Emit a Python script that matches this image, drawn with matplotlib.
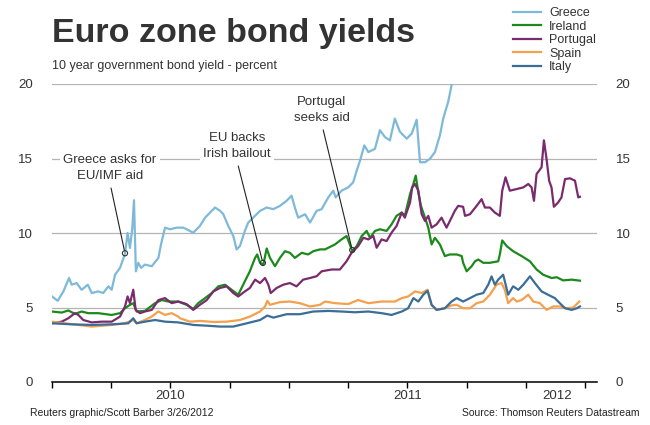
import matplotlib
matplotlib.use('agg')
import matplotlib.pyplot as plt

plt.rcParams['font.family'] = ['Liberation Sans', 'DejaVu Sans']

# decimal years, values in percent
greece_t = [2010.000, 2010.024, 2010.048, 2010.072, 2010.083, 2010.104, 2010.125, 2010.151, 2010.168, 2010.195,
            2010.216, 2010.238, 2010.252, 2010.266, 2010.287, 2010.308, 2010.319, 2010.329, 2010.339, 2010.346,
            2010.354, 2010.364, 2010.376, 2010.392, 2010.421, 2010.449, 2010.460, 2010.477, 2010.498, 2010.526,
            2010.554, 2010.568, 2010.596, 2010.624, 2010.646, 2010.667, 2010.688, 2010.709, 2010.723, 2010.744,
            2010.765, 2010.779, 2010.793, 2010.814, 2010.828, 2010.849, 2010.878, 2010.906, 2010.934, 2010.962,
            2010.990, 2011.011, 2011.025, 2011.039, 2011.068, 2011.089, 2011.117, 2011.138, 2011.166, 2011.187,
            2011.197, 2011.222, 2011.250, 2011.271, 2011.286, 2011.300, 2011.318, 2011.335, 2011.363, 2011.384,
            2011.405, 2011.426, 2011.447, 2011.468, 2011.497, 2011.518, 2011.539, 2011.553, 2011.574, 2011.595,
            2011.616, 2011.637, 2011.651, 2011.672, 2011.686, 2011.700, 2011.720, 2011.750, 2011.800, 2011.850,
            2011.900, 2012.000, 2012.100, 2012.228]
greece = [5.74, 5.45, 6.08, 6.98, 6.53, 6.64, 6.19, 6.53, 5.97, 6.08,
          5.97, 6.42, 6.19, 7.20, 7.66, 8.60, 10.0, 9.00, 10.36, 12.2,
          7.43, 8.00, 7.66, 7.88, 7.77, 8.33, 9.23, 10.36, 10.25, 10.36,
          10.36, 10.25, 10.02, 10.47, 11.03, 11.37, 11.71, 11.49, 11.26, 10.47,
          9.80, 8.90, 9.12, 10.14, 10.70, 11.03, 11.49, 11.71, 11.60, 11.82,
          12.16, 12.50, 11.71, 11.03, 11.26, 10.70, 11.49, 11.60, 12.39, 12.84,
          12.39, 12.84, 13.06, 13.40, 14.19, 14.86, 15.88, 15.43, 15.65, 16.90,
          16.44, 16.22, 17.68, 16.80, 16.33, 16.67, 17.60, 14.75, 14.75, 14.98,
          15.43, 16.55, 17.68, 18.80, 19.90, 21.0, 23.0, 22.5, 24.5, 28.0,
          33.0, 34.0, 35.0, 25.0]

ireland_t = [2010.000, 2010.041, 2010.069, 2010.097, 2010.125, 2010.153, 2010.195, 2010.252, 2010.287, 2010.308,
             2010.329, 2010.343, 2010.357, 2010.392, 2010.435, 2010.463, 2010.491, 2010.533, 2010.568, 2010.596,
             2010.617, 2010.646, 2010.674, 2010.702, 2010.730, 2010.758, 2010.786, 2010.814, 2010.835, 2010.857,
             2010.866, 2010.878, 2010.892, 2010.906, 2010.920, 2010.941, 2010.962, 2010.983, 2011.004, 2011.025,
             2011.054, 2011.081, 2011.103, 2011.131, 2011.152, 2011.194, 2011.222, 2011.243, 2011.257, 2011.267,
             2011.286, 2011.307, 2011.328, 2011.342, 2011.363, 2011.384, 2011.412, 2011.433, 2011.454, 2011.476,
             2011.489, 2011.511, 2011.525, 2011.535, 2011.546, 2011.557, 2011.574, 2011.588, 2011.602, 2011.616,
             2011.637, 2011.658, 2011.679, 2011.708, 2011.729, 2011.735, 2011.750, 2011.771, 2011.785, 2011.799,
             2011.820, 2011.848, 2011.883, 2011.890, 2011.900, 2011.919, 2011.946, 2011.982, 2012.017, 2012.045,
             2012.073, 2012.108, 2012.130, 2012.157, 2012.193, 2012.228]
ireland = [4.73, 4.66, 4.80, 4.57, 4.73, 4.62, 4.62, 4.50, 4.62, 4.95,
           5.18, 5.29, 4.73, 4.77, 5.29, 5.50, 5.40, 5.40, 5.18, 4.91,
           5.29, 5.63, 5.97, 6.42, 6.53, 6.19, 5.86, 6.76, 7.43, 8.33,
           8.56, 8.00, 7.88, 8.96, 8.33, 7.77, 8.33, 8.78, 8.67, 8.33,
           8.67, 8.56, 8.78, 8.90, 8.90, 9.23, 9.57, 9.80, 9.23, 8.78,
           9.12, 9.80, 10.14, 9.68, 10.14, 10.25, 10.14, 10.58, 11.15, 11.37,
           11.15, 12.61, 13.29, 13.85, 12.73, 11.82, 11.03, 10.36, 9.23, 9.68,
           9.23, 8.45, 8.56, 8.56, 8.45, 8.00, 7.43, 7.77, 8.10, 8.22,
           8.00, 8.00, 8.10, 8.56, 9.50, 9.12, 8.78, 8.45, 8.10, 7.55,
           7.20, 6.98, 7.03, 6.82, 6.87, 6.80]

portugal_t = [2010.000, 2010.041, 2010.069, 2010.097, 2010.111, 2010.132, 2010.168, 2010.210, 2010.252, 2010.287,
              2010.308, 2010.319, 2010.329, 2010.343, 2010.353, 2010.371, 2010.392, 2010.421, 2010.449, 2010.477,
              2010.505, 2010.533, 2010.568, 2010.596, 2010.624, 2010.653, 2010.681, 2010.709, 2010.737, 2010.765,
              2010.786, 2010.814, 2010.835, 2010.857, 2010.878, 2010.899, 2010.913, 2010.923, 2010.948, 2010.976,
              2011.004, 2011.032, 2011.060, 2011.089, 2011.117, 2011.138, 2011.180, 2011.215, 2011.243, 2011.264,
              2011.292, 2011.314, 2011.335, 2011.356, 2011.370, 2011.391, 2011.412, 2011.433, 2011.454, 2011.476,
              2011.489, 2011.511, 2011.520, 2011.532, 2011.546, 2011.560, 2011.574, 2011.588, 2011.602, 2011.623,
              2011.644, 2011.665, 2011.686, 2011.700, 2011.714, 2011.735, 2011.743, 2011.764, 2011.792, 2011.813,
              2011.827, 2011.848, 2011.869, 2011.890, 2011.900, 2011.914, 2011.932, 2011.961, 2011.989, 2012.010,
              2012.024, 2012.034, 2012.045, 2012.056, 2012.066, 2012.076, 2012.087, 2012.098, 2012.108, 2012.118,
              2012.136, 2012.150, 2012.165, 2012.186, 2012.207, 2012.221, 2012.228]
portugal = [3.94, 4.05, 4.28, 4.62, 4.50, 4.16, 4.00, 4.05, 4.05, 4.39,
            5.07, 5.74, 5.29, 6.19, 4.84, 4.62, 4.73, 4.84, 5.50, 5.63,
            5.29, 5.40, 5.23, 4.84, 5.18, 5.50, 6.08, 6.31, 6.42, 5.97,
            5.74, 6.08, 6.31, 6.87, 6.64, 6.98, 6.53, 5.97, 6.31, 6.53,
            6.64, 6.42, 6.87, 6.98, 7.10, 7.43, 7.55, 7.55, 8.10, 8.67,
            9.12, 9.68, 9.57, 9.80, 9.01, 9.57, 9.46, 10.02, 10.47, 11.37,
            11.03, 12.05, 13.06, 13.29, 12.84, 11.26, 10.81, 11.15, 10.36, 10.58,
            11.03, 10.36, 11.03, 11.49, 11.82, 11.76, 11.15, 11.26, 11.82, 12.27,
            11.71, 11.71, 11.37, 11.15, 12.84, 13.74, 12.84, 12.95, 13.06, 13.29,
            13.06, 12.16, 13.96, 14.19, 14.41, 16.22, 14.98, 13.51, 13.06, 11.76,
            12.05, 12.39, 13.62, 13.67, 13.51, 12.39, 12.43]

spain_t = [2010.000, 2010.055, 2010.111, 2010.168, 2010.252, 2010.308, 2010.343, 2010.357, 2010.392, 2010.421,
           2010.449, 2010.477, 2010.505, 2010.533, 2010.540, 2010.582, 2010.624, 2010.681, 2010.737, 2010.793,
           2010.835, 2010.878, 2010.899, 2010.909, 2010.920, 2010.962, 2011.004, 2011.046, 2011.089, 2011.131,
           2011.152, 2011.194, 2011.250, 2011.292, 2011.335, 2011.391, 2011.447, 2011.476, 2011.503, 2011.532,
           2011.560, 2011.585, 2011.602, 2011.623, 2011.658, 2011.686, 2011.708, 2011.735, 2011.764, 2011.792,
           2011.820, 2011.848, 2011.876, 2011.897, 2011.911, 2011.925, 2011.946, 2011.961, 2011.982, 2012.010,
           2012.031, 2012.059, 2012.087, 2012.115, 2012.143, 2012.172, 2012.200, 2012.225]
spain = [4.05, 3.94, 3.83, 3.72, 3.83, 3.94, 4.16, 3.94, 4.16, 4.39,
         4.73, 4.50, 4.62, 4.39, 4.28, 4.05, 4.10, 4.03, 4.05, 4.16,
         4.39, 4.73, 5.07, 5.45, 5.18, 5.36, 5.40, 5.29, 5.07, 5.18,
         5.40, 5.29, 5.23, 5.50, 5.29, 5.40, 5.40, 5.63, 5.74, 6.08,
         5.97, 6.19, 5.18, 4.84, 4.95, 5.14, 5.18, 4.95, 4.95, 5.29,
         5.40, 5.86, 6.53, 6.64, 6.19, 5.29, 5.63, 5.40, 5.50, 5.86,
         5.40, 5.29, 4.84, 5.07, 5.07, 4.95, 5.00, 5.40]

italy_t = [2010.000, 2010.083, 2010.168, 2010.252, 2010.322, 2010.343, 2010.357, 2010.392, 2010.435, 2010.477,
           2010.533, 2010.596, 2010.653, 2010.709, 2010.765, 2010.822, 2010.878, 2010.909, 2010.934, 2010.990,
           2011.046, 2011.103, 2011.166, 2011.222, 2011.278, 2011.335, 2011.391, 2011.433, 2011.476, 2011.503,
           2011.525, 2011.546, 2011.567, 2011.585, 2011.602, 2011.623, 2011.658, 2011.686, 2011.708, 2011.735,
           2011.764, 2011.792, 2011.820, 2011.841, 2011.855, 2011.869, 2011.883, 2011.904, 2011.925, 2011.946,
           2011.968, 2011.989, 2012.017, 2012.038, 2012.066, 2012.093, 2012.122, 2012.143, 2012.165, 2012.193,
           2012.215, 2012.228]
italy = [3.94, 3.87, 3.83, 3.87, 3.94, 4.28, 3.94, 4.05, 4.16, 4.05,
         4.00, 3.83, 3.78, 3.72, 3.72, 3.94, 4.16, 4.46, 4.32, 4.55,
         4.55, 4.73, 4.77, 4.73, 4.68, 4.73, 4.62, 4.50, 4.73, 4.95,
         5.63, 5.40, 5.86, 6.12, 5.18, 4.84, 4.95, 5.40, 5.63, 5.40,
         5.63, 5.86, 5.97, 6.53, 7.09, 6.53, 6.87, 7.20, 5.86, 6.42,
         6.19, 6.53, 7.09, 6.64, 6.08, 5.86, 5.63, 5.29, 4.95, 4.84,
         4.95, 5.07]

series = [
    ('Greece', greece_t, greece, '#7fb9d8'),
    ('Ireland', ireland_t, ireland, '#1b8a1b'),
    ('Portugal', portugal_t, portugal, '#7a2b6d'),
    ('Spain', spain_t, spain, '#f4a04c'),
    ('Italy', italy_t, italy, '#3b6d99'),
]

# events: label, date, yield at the marked point, text position (axes fraction)
event_labels = ['Greece asks for\nEU/IMF aid', 'EU backs\nIrish bailout', 'Portugal\nseeks aid']
event_t = [2010.308, 2010.890, 2011.267]
event_y = [8.64, 7.99, 8.86]
event_text_pos = [(0.106, 0.718), (0.339, 0.792), (0.495, 0.913)]

year_ticks = [2010.0 + 0.25 * i for i in range(10)]
year_label_pos = [2010.5, 2011.5, 2012.13]
year_labels = ['2010', '2011', '2012']

fig = plt.figure(figsize=(6.5, 4.25), dpi=100)
ax = fig.add_axes([52 / 650, 1 - 382 / 425, 545 / 650, 298 / 425])

for name, t, v, c in series:
    ax.plot(t, v, color=c, lw=1.6, label=name, solid_joinstyle='round')

ax.set_xlim(2010.0, 2012.30)
ax.set_ylim(0, 20)
ax.set_yticks([0, 5, 10, 15, 20])
ax.yaxis.grid(True, color='#b4b4b4', lw=0.9)
ax.set_axisbelow(True)
for s in ['top', 'left', 'right']:
    ax.spines[s].set_visible(False)
ax.spines['bottom'].set_linewidth(1.1)
ax.spines['bottom'].set_zorder(5)
ax.tick_params(axis='y', left=False, right=False, labelleft=True, labelright=True,
               labelsize=9.5, labelcolor='#333333', pad=10)

# quarterly ticks without labels, year labels on minor ticks
ax.xaxis.set_remove_overlapping_locs(False)
ax.set_xticks(year_ticks)
ax.set_xticklabels([])
ax.tick_params(axis='x', which='major', direction='out', length=4, width=1, color='black')
ax.set_xticks(year_label_pos, minor=True)
ax.set_xticklabels(year_labels, minor=True)
ax.tick_params(axis='x', which='minor', length=0, pad=6, labelsize=9.5, labelcolor='#333333')

for lab, t, y, pos in zip(event_labels, event_t, event_y, event_text_pos):
    ax.annotate(lab, xy=(t, y), xytext=pos, textcoords='axes fraction',
                ha='center', va='center', fontsize=9.5, color='#333333', linespacing=1.45,
                bbox=dict(boxstyle='square,pad=0.25', fc='white', ec='none'),
                arrowprops=dict(arrowstyle='-', color='#222222', lw=0.8,
                                relpos=(0.5, 0.0), shrinkA=2, shrinkB=2), zorder=6)
    ax.scatter([t], [y], s=14, facecolors='none', edgecolors='#333333', linewidths=0.8, zorder=7)

fig.text(52 / 650, 1 - 42 / 425, 'Euro zone bond yields', fontsize=24.5, fontweight='bold',
         color='#333333', va='baseline', ha='left')
fig.text(52 / 650, 1 - 66 / 425, '10 year government bond yield - percent', fontsize=9,
         color='#333333', va='center', ha='left')
fig.text(30 / 650, 1 - 413 / 425, 'Reuters graphic/Scott Barber 3/26/2012', fontsize=7.5,
         color='#222222', va='center', ha='left')
fig.text(640 / 650, 1 - 413 / 425, 'Source: Thomson Reuters Datastream', fontsize=7.5,
         color='#222222', va='center', ha='right')

fig.legend(loc='upper left', bbox_to_anchor=(513 / 650, 1 - 7 / 425), frameon=False,
           fontsize=9, handlelength=2.2, handletextpad=0.7, labelspacing=0.12,
           borderpad=0, borderaxespad=0, labelcolor='#333333')

fig.savefig('out.png', dpi=100)
